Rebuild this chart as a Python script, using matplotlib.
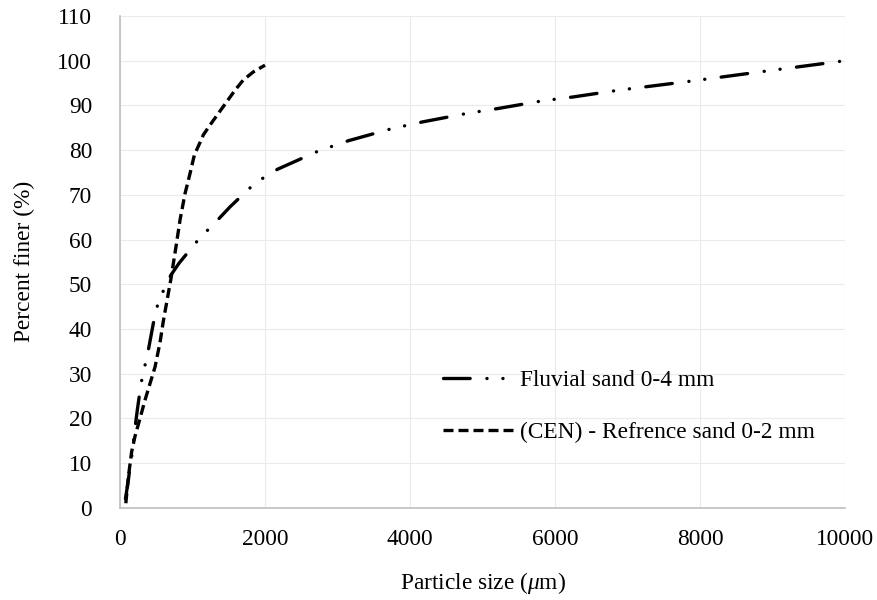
import numpy as np
import matplotlib
matplotlib.use("Agg")
import matplotlib.pyplot as plt

plt.rcParams['font.family'] = ['Liberation Serif', 'DejaVu Serif']
plt.rcParams['mathtext.fontset'] = 'custom'
plt.rcParams['mathtext.rm'] = 'Liberation Serif'
plt.rcParams['mathtext.it'] = 'Liberation Serif:italic'
plt.rcParams['lines.scale_dashes'] = False

# particle size (um) vs percent finer
fluvial_x = [75, 115, 138, 161, 200, 239, 290, 345, 391, 460, 529, 597, 700, 814,
             1067, 1209, 1366, 1517, 1803, 1977, 2170, 2736, 3150, 3747, 4170,
             4782, 5210, 5816, 6253, 6873, 7908, 8966, 10000]
fluvial_y = [2, 6.2, 9.2, 11.4, 17.0, 21.9, 27.8, 31.9, 35.3, 41.3, 46.1, 48.5, 52.0, 54.7,
             59.7, 62.1, 64.7, 67.3, 71.7, 73.8, 75.7, 79.8, 82.1, 84.8, 86.3,
             88.2, 89.3, 91.0, 91.9, 93.4, 95.5, 97.8, 100]

cen_x = [80, 115, 160, 207, 276, 345, 414, 483, 552, 600, 650, 700, 736, 772, 828,
         897, 966, 1025, 1103, 1149, 1241, 1356, 1471, 1586, 1701, 1839, 2000]
cen_y = [1.0, 6.9, 12.5, 16.0, 20.0, 24.1, 27.8, 31.5, 37.0, 42.0, 46.5, 51.0, 54.7,
         58.4, 64.4, 70.3, 74.8, 78.9, 81.7, 83.4, 85.6, 88.2, 90.8, 93.4, 95.7, 97.5, 99.0]

labels = ["Fluvial sand 0-4 mm", "(CEN) - Refrence sand 0-2 mm"]

fig = plt.figure(figsize=(8.78, 6.0), dpi=100)
ax = fig.add_axes([0.1367, 0.1538, 0.8257, 0.8195])

fs = 16.8
ax.plot(fluvial_x, fluvial_y, color='black', lw=2.4,
        linestyle=(0, (19.2, 12.05, 0.1, 11.4, 0.1, 11.85)),
        dash_capstyle='round', label=labels[0])
ax.plot(cen_x, cen_y, color='black', lw=2.4,
        linestyle=(0, (7.2, 3.6)), dash_capstyle='butt', label=labels[1])

ax.set_xlim(0, 10000)
ax.set_ylim(0, 110)
ax.set_xticks(np.arange(0, 10001, 2000))
ax.set_yticks(np.arange(0, 111, 10))
ax.tick_params(length=0, labelsize=fs)
ax.tick_params(axis='y', pad=20)
ax.tick_params(axis='x', pad=15)

ax.grid(True, color='#ebebeb', lw=0.8)
ax.set_axisbelow(True)
for s in ['top', 'right']:
    ax.spines[s].set_visible(False)
for s in ['left', 'bottom']:
    ax.spines[s].set_color('#bfbfbf')
    ax.spines[s].set_linewidth(1.2)

ax.set_xlabel(r"Particle size ($\mu$m)", fontsize=fs, labelpad=15)
ax.set_ylabel("Percent finer (%)", fontsize=fs, labelpad=16)

ax.legend(loc='center left', bbox_to_anchor=(0.4455, 0.206), frameon=False,
          fontsize=fs, handlelength=3.1, handletextpad=0.2, labelspacing=1.3,
          borderpad=0, borderaxespad=0)

fig.savefig("out.png", dpi=100)
